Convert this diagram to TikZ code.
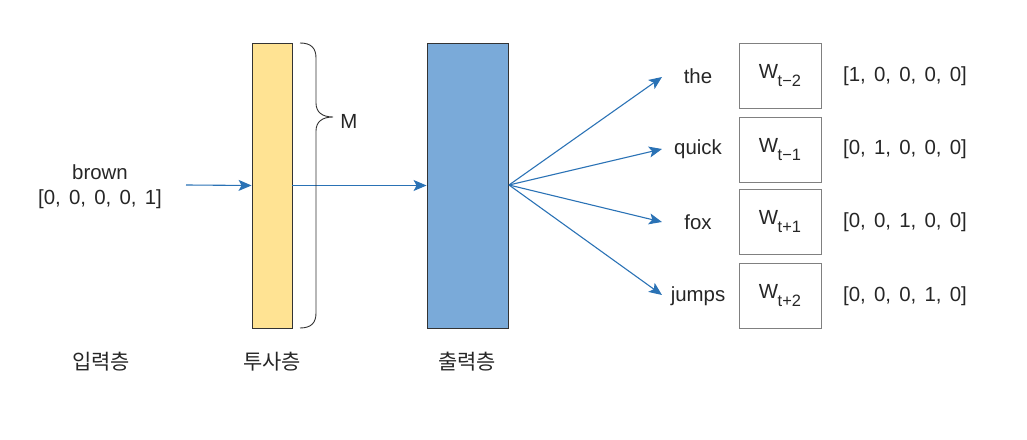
\documentclass[tikz,border=0pt]{standalone}
\usepackage{fontspec}
\setmainfont{Liberation Sans}
\newfontfamily\krfont{Noto Sans CJK KR}
\usetikzlibrary{arrows.meta}
\definecolor{ylw}{HTML}{FFE393}
\definecolor{blu}{HTML}{7AAAD9}
\definecolor{arr}{HTML}{2A72B5}
\definecolor{edge}{HTML}{333333}
\definecolor{boxg}{HTML}{808080}
\definecolor{ink}{HTML}{262626}
\newcommand{\wsub}[1]{W\kern-0.5bp\raisebox{-0.36em}{\fontsize{16.5}{16.5}\selectfont #1}}
\newcommand{\vv}[1]{\begingroup\spaceskip=8.2bp\relax #1\endgroup}
\begin{document}
\begin{tikzpicture}[x=1bp,y=-1bp,
  txt/.style={inner sep=0pt, font=\fontsize{20.5}{24}\selectfont, text=ink},
  kr/.style={inner sep=0pt, font=\krfont\fontsize{21}{24}\selectfont, text=ink},
  layer/.style={draw=edge, line width=0.9pt, inner sep=0pt},
  wbox/.style={draw=boxg, line width=0.8pt, minimum width=82bp, minimum height=65bp, inner sep=0pt, font=\fontsize{20.5}{24}\selectfont, text=ink},
  conn/.style={draw=arr, line width=1.1pt, -{Stealth[length=13bp, width=11bp, inset=3bp]}},
  brace/.style={draw=edge, line width=0.9pt}
]
\useasboundingbox (0,0) rectangle (1027,440);

% layers
\node[layer, fill=ylw, minimum width=40bp, minimum height=285bp] (proj) at (272,185.5) {};
\node[layer, fill=blu, minimum width=81bp, minimum height=285bp] (out) at (467.5,185.5) {};

% input
\node[txt] (brown) at (100,172) {brown};
\node[txt] (invec) at (100,199) {\vv{[0, 0, 0, 0, 1]}};
\coordinate (instart) at (186,185);
\draw[conn] (instart) -- (proj.west);
\draw[conn] (proj.east) -- (out.west);

% brace
\draw[brace] (300,43) .. controls (311,43) and (316,48) .. (316,58) -- (316,103)
  .. controls (316,112) and (322,117) .. (333,117)
  .. controls (322,117) and (316,122) .. (316,131) -- (316,313)
  .. controls (316,323) and (311,328) .. (300,328);
\node[txt] (M) at (349,121) {M};

% layer labels
\node[kr] (lin) at (101,362) {입력층};
\node[kr] (lproj) at (272,362) {투사층};
\node[kr] (lout) at (467,362) {출력층};

% output words
\coordinate (fan) at (509,185);
\coordinate (t1) at (662,77);
\coordinate (t2) at (662,149);
\coordinate (t3) at (662,222);
\coordinate (t4) at (662,295);
\draw[conn] (fan) -- (t1);
\draw[conn] (fan) -- (t2);
\draw[conn] (fan) -- (t3);
\draw[conn] (fan) -- (t4);

\node[txt] (w1) at (698,76) {the};
\node[txt] (w2) at (698,149) {quick};
\node[txt] (w3) at (698,222) {fox};
\node[txt] (w4) at (698,296) {jumps};

\node[wbox] (b1) at (780,75.5) {\wsub{t−2}};
\node[wbox] (b2) at (780,149.5) {\wsub{t−1}};
\node[wbox] (b3) at (780,221.5) {\wsub{t+1}};
\node[wbox] (b4) at (780,295.5) {\wsub{t+2}};

\node[txt] (v1) at (905,76) {\vv{[1, 0, 0, 0, 0]}};
\node[txt] (v2) at (905,149) {\vv{[0, 1, 0, 0, 0]}};
\node[txt] (v3) at (905,222) {\vv{[0, 0, 1, 0, 0]}};
\node[txt] (v4) at (905,296) {\vv{[0, 0, 0, 1, 0]}};
\end{tikzpicture}
\end{document}
